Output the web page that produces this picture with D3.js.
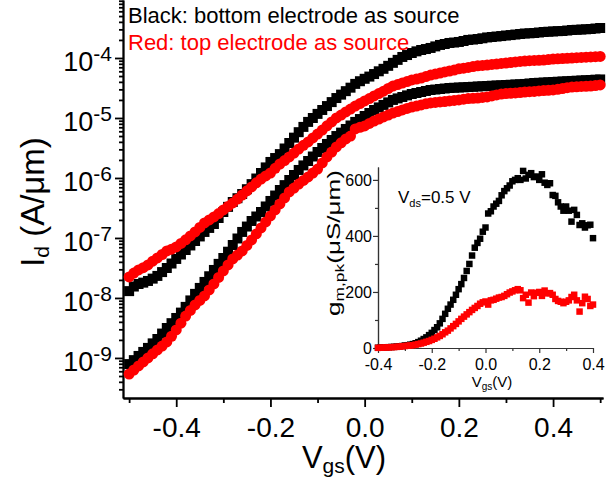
<!DOCTYPE html>
<html lang="en">
<head>
<meta charset="utf-8">
<title>Id-Vgs</title>
<script src="https://cdnjs.cloudflare.com/ajax/libs/d3/7.8.5/d3.min.js"></script>
<style>
  body { margin: 0; background: #fff; }
  svg { display: block; font-family: "Liberation Sans", Arial, sans-serif; }
  .main .domain, .main line { stroke: #000; stroke-width: 1.8px; }
  .inset .domain, .inset line { stroke: #333; stroke-width: 1.2px; }
</style>
</head>
<body>
<div id="chart"></div>
<script>
// main plot: Vgs (V) and drain current (A/um)
var vgsMain = [-0.50,-0.49,-0.48,-0.47,-0.46,-0.45,-0.44,-0.43,-0.42,-0.41,
  -0.40,-0.39,-0.38,-0.37,-0.36,-0.35,-0.34,-0.33,-0.32,-0.31,
  -0.30,-0.29,-0.28,-0.27,-0.26,-0.25,-0.24,-0.23,-0.22,-0.21,
  -0.20,-0.19,-0.18,-0.17,-0.16,-0.15,-0.14,-0.13,-0.12,-0.11,
  -0.10,-0.09,-0.08,-0.07,-0.06,-0.05,-0.04,-0.03,-0.02,-0.01,
  0.00,0.01,0.02,0.03,0.04,0.05,0.06,0.07,0.08,0.09,
  0.10,0.11,0.12,0.13,0.14,0.15,0.16,0.17,0.18,0.19,
  0.20,0.21,0.22,0.23,0.24,0.25,0.26,0.27,0.28,0.29,
  0.30,0.31,0.32,0.33,0.34,0.35,0.36,0.37,0.38,0.39,
  0.40,0.41,0.42,0.43,0.44,0.45,0.46,0.47,0.48,0.49,0.50];

var blackTop = [1.3e-8,1.55e-8,1.71e-8,1.8e-8,1.92e-8,2.1e-8,2.33e-8,2.7e-8,3.16e-8,3.75e-8,
  4.47e-8,5.3e-8,6.3e-8,7.5e-8,8.9e-8,1.06e-7,1.26e-7,1.47e-7,1.71e-7,2.15e-7,
  2.71e-7,3.3e-7,3.98e-7,4.6e-7,5.4e-7,6.5e-7,7.9e-7,9.8e-7,1.21e-6,1.5e-6,
  1.85e-6,2.15e-6,2.5e-6,3.1e-6,3.83e-6,4.7e-6,5.8e-6,7.1e-6,8.6e-6,1.0e-5,
  1.17e-5,1.36e-5,1.58e-5,1.84e-5,2.15e-5,2.45e-5,2.8e-5,3.2e-5,3.7e-5,4.1e-5,
  4.5e-5,4.9e-5,5.4e-5,6.0e-5,6.6e-5,7.4e-5,8.3e-5,9.3e-5,1.04e-4,1.12e-4,
  1.21e-4,1.29e-4,1.36e-4,1.41e-4,1.47e-4,1.56e-4,1.65e-4,1.71e-4,1.78e-4,1.81e-4,
  1.85e-4,1.92e-4,2.0e-4,2.03e-4,2.07e-4,2.13e-4,2.2e-4,2.24e-4,2.28e-4,2.32e-4,
  2.37e-4,2.41e-4,2.46e-4,2.51e-4,2.56e-4,2.58e-4,2.61e-4,2.66e-4,2.71e-4,2.74e-4,
  2.77e-4,2.8e-4,2.82e-4,2.87e-4,2.93e-4,2.95e-4,2.98e-4,3.01e-4,3.04e-4,3.1e-4,3.16e-4];

var blackBottom = [7.9e-10,9.2e-10,1.08e-9,1.26e-9,1.47e-9,1.75e-9,2.07e-9,2.55e-9,3.16e-9,3.8e-9,
  4.64e-9,5.7e-9,7.1e-9,9.1e-9,1.17e-8,1.47e-8,1.85e-8,2.3e-8,2.93e-8,3.7e-8,
  4.64e-8,5.9e-8,7.64e-8,9.8e-8,1.26e-7,1.55e-7,1.92e-7,2.28e-7,2.71e-7,3.35e-7,
  4.14e-7,5.1e-7,6.3e-7,7.6e-7,9.26e-7,1.12e-6,1.36e-6,1.62e-6,1.92e-6,2.28e-6,
  2.71e-6,3.16e-6,3.69e-6,4.3e-6,5.0e-6,5.7e-6,6.56e-6,7.5e-6,8.6e-6,9.6e-6,
  1.08e-5,1.21e-5,1.36e-5,1.5e-5,1.65e-5,1.82e-5,2.0e-5,2.12e-5,2.24e-5,2.38e-5,
  2.51e-5,2.61e-5,2.71e-5,2.82e-5,2.93e-5,2.98e-5,3.04e-5,3.1e-5,3.16e-5,3.19e-5,
  3.22e-5,3.25e-5,3.28e-5,3.31e-5,3.35e-5,3.38e-5,3.41e-5,3.45e-5,3.48e-5,3.51e-5,
  3.55e-5,3.58e-5,3.62e-5,3.65e-5,3.69e-5,3.76e-5,3.83e-5,3.86e-5,3.9e-5,3.94e-5,
  3.98e-5,4.02e-5,4.06e-5,4.1e-5,4.14e-5,4.18e-5,4.22e-5,4.26e-5,4.3e-5,4.35e-5,4.39e-5];

var redTop = [2.24e-8,2.6e-8,2.93e-8,3.2e-8,3.55e-8,4.1e-8,4.64e-8,5.3e-8,6.07e-8,6.5e-8,
  7.08e-8,8.1e-8,9.3e-8,1.08e-7,1.26e-7,1.5e-7,1.78e-7,2.0e-7,2.24e-7,2.55e-7,
  2.93e-7,3.35e-7,3.83e-7,4.45e-7,5.2e-7,6.1e-7,7.1e-7,8.3e-7,9.6e-7,1.08e-6,
  1.21e-6,1.45e-6,1.71e-6,1.95e-6,2.24e-6,2.6e-6,3.04e-6,3.5e-6,3.98e-6,4.65e-6,
  5.4e-6,6.3e-6,7.4e-6,8.6e-6,1.0e-5,1.12e-5,1.26e-5,1.41e-5,1.58e-5,1.74e-5,
  1.92e-5,2.11e-5,2.33e-5,2.55e-5,2.8e-5,3.1e-5,3.4e-5,3.6e-5,3.83e-5,4.05e-5,
  4.3e-5,4.45e-5,4.64e-5,4.9e-5,5.2e-5,5.4e-5,5.6e-5,5.85e-5,6.07e-5,6.3e-5,
  6.6e-5,6.75e-5,6.95e-5,7.2e-5,7.4e-5,7.5e-5,7.64e-5,7.8e-5,7.94e-5,8.1e-5,
  8.25e-5,8.4e-5,8.58e-5,8.75e-5,8.9e-5,9.0e-5,9.1e-5,9.15e-5,9.25e-5,9.4e-5,
  9.6e-5,9.7e-5,9.8e-5,9.9e-5,1.0e-4,1.01e-4,1.02e-4,1.03e-4,1.04e-4,1.05e-4,1.06e-4];

var redBottom = [5.4e-10,6.3e-10,7.36e-10,8.6e-10,1.0e-9,1.17e-9,1.36e-9,1.58e-9,1.85e-9,2.3e-9,
  2.93e-9,3.8e-9,5.0e-9,6.2e-9,7.64e-9,9.1e-9,1.08e-8,1.36e-8,1.71e-8,2.2e-8,
  2.82e-8,3.55e-8,4.47e-8,5.2e-8,6.07e-8,7.5e-8,9.26e-8,1.17e-7,1.47e-7,1.85e-7,
  2.33e-7,2.93e-7,3.69e-7,4.65e-7,5.85e-7,6.8e-7,7.9e-7,9.1e-7,1.04e-6,1.21e-6,
  1.41e-6,1.78e-6,2.24e-6,2.7e-6,3.29e-6,3.85e-6,4.47e-6,5.0e-6,6.56e-6,7.0e-6,
  7.36e-6,8.1e-6,8.9e-6,9.6e-6,1.04e-5,1.12e-5,1.21e-5,1.28e-5,1.36e-5,1.44e-5,
  1.52e-5,1.58e-5,1.65e-5,1.72e-5,1.78e-5,1.82e-5,1.85e-5,1.88e-5,1.92e-5,1.96e-5,
  2.0e-5,2.06e-5,2.11e-5,2.13e-5,2.15e-5,2.2e-5,2.24e-5,2.33e-5,2.42e-5,2.5e-5,
  2.56e-5,2.58e-5,2.61e-5,2.66e-5,2.71e-5,2.74e-5,2.77e-5,2.82e-5,2.87e-5,2.9e-5,
  2.93e-5,3.0e-5,3.1e-5,3.2e-5,3.28e-5,3.31e-5,3.35e-5,3.38e-5,3.41e-5,3.48e-5,3.55e-5];

// inset: peak transconductance (uS/um) vs Vgs
var vgsInset = [-0.40,-0.39,-0.38,-0.37,-0.36,-0.35,-0.34,-0.33,-0.32,-0.31,
  -0.30,-0.29,-0.28,-0.27,-0.26,-0.25,-0.24,-0.23,-0.22,-0.21,
  -0.20,-0.19,-0.18,-0.17,-0.16,-0.15,-0.14,-0.13,-0.12,-0.11,
  -0.10,-0.09,-0.08,-0.07,-0.06,-0.05,-0.04,-0.03,-0.02,-0.01,
  0.00,0.01,0.02,0.03,0.04,0.05,0.06,0.07,0.08,0.09,
  0.10,0.11,0.12,0.13,0.14,0.15,0.16,0.17,0.18,0.19,
  0.20,0.21,0.22,0.23,0.24,0.25,0.26,0.27,0.28,0.29,
  0.30,0.31,0.32,0.33,0.34,0.35,0.36,0.37,0.38,0.39,0.40];

var gmBlack = [1,1.5,2,2.5,3,3.5,4,5,6,7,
  9,10,12,14,17,21,26,32,38,46,
  54,64,74,88,104,122,140,155,172,190,
  210,228,250,275,300,330,358,375,390,415,
  430,480,488,505,515,525,545,560,570,580,
  595,600,606,600,632,605,618,624,610,612,
  600,620,590,582,588,546,543,520,505,490,
  505,490,451,493,475,439,445,430,438,440,392];

var gmRed = [0.5,1,1.5,2,2.5,3,3.5,4,5,6,
  7,8,9,10,12,14,16,19,22,25,
  29,33,38,43,49,56,62,70,78,86,
  95,104,112,120,128,136,143,150,158,163,
  166,155,170,172,176,180,182,186,192,198,
  202,206,210,206,178,190,162,198,185,197,
  200,186,205,195,196,190,175,168,165,160,
  165,170,182,190,170,130,160,183,175,150,155];

var mainXTicks = [-0.4, -0.2, 0.0, 0.2, 0.4];
var mainXMinor = [-0.5, -0.3, -0.1, 0.1, 0.3, 0.5];
var mainYTicks = [1e-9, 1e-8, 1e-7, 1e-6, 1e-5, 1e-4];
var insetXTicks = [-0.4, -0.2, 0.0, 0.2, 0.4];
var insetXMinor = [-0.3, -0.1, 0.1, 0.3];
var insetYTicks = [0, 200, 400, 600];
var insetYMinor = [100, 300, 500];

var width = 616, height = 482;

var svg = d3.select("#chart")
  .append("svg")
  .attr("width", width)
  .attr("height", height);

//---------------- main plot ----------------
var x = d3.scaleLinear().domain([-0.513, 0.506]).range([123, 603]);
var y = d3.scaleLog().domain([2.15e-10, 9.26e-4]).range([398, 0]);

var fmt = function(d) { return d.toFixed(1); };

var mainG = svg.append("g").attr("class", "main");

// minor ticks first, the major axis goes over them
mainG.append("g")
  .attr("transform", "translate(0,398)")
  .call(d3.axisBottom(x).tickValues(mainXMinor).tickSize(5).tickSizeOuter(0).tickFormat(""));

var xAxisG = mainG.append("g")
  .attr("transform", "translate(0,398)")
  .call(d3.axisBottom(x).tickValues(mainXTicks).tickSize(9).tickSizeOuter(0).tickFormat(fmt));
xAxisG.selectAll("text")
  .attr("y", 39)
  .attr("dy", 0)
  .style("font-size", "28px")
  .style("font-family", "'Liberation Sans', Arial, sans-serif")
  .attr("fill", "#000");

// log minor ticks 2..9 in each decade
var yMinor = [];
for (var e = -10; e <= -4; e++) {
  for (var m = 2; m <= 9; m++) {
    var v = m * Math.pow(10, e);
    if (v >= y.domain()[0] && v <= y.domain()[1]) yMinor.push(v);
  }
}
mainG.append("g")
  .attr("transform", "translate(123,0)")
  .call(d3.axisLeft(y).tickValues(yMinor).tickSize(4).tickSizeOuter(0).tickFormat(""));

var yAxisG = mainG.append("g")
  .attr("transform", "translate(123,0)")
  .call(d3.axisLeft(y).tickValues(mainYTicks).tickSize(8).tickSizeOuter(0).tickFormat(""));

// power-of-ten labels: "10" with a superscript exponent
yAxisG.selectAll(".tick").each(function(d) {
  var t = d3.select(this).append("text")
    .attr("x", -11)
    .attr("y", 13)
    .attr("text-anchor", "end")
    .attr("fill", "#000")
    .style("font-size", "27px");
  t.append("tspan").text("10");
  t.append("tspan")
    .attr("dy", -10)
    .style("font-size", "21px")
    .text("-" + Math.round(-Math.log10(d)));
});

// markers
var sqBig = d3.symbol().type(d3.symbolSquare).size(100);
var circ = d3.symbol().type(d3.symbolCircle).size(95);

function drawSeries(g, xs, ys, sx, sy, sym, color) {
  g.append("g").selectAll("path")
    .data(xs.map(function(d, i) { return [d, ys[i]]; }))
    .enter().append("path")
    .attr("d", sym)
    .attr("transform", function(d) { return "translate(" + sx(d[0]) + "," + sy(d[1]) + ")"; })
    .attr("fill", color);
}

drawSeries(svg, vgsMain, blackTop, x, y, sqBig, "#000");
drawSeries(svg, vgsMain, blackBottom, x, y, sqBig, "#000");
drawSeries(svg, vgsMain, redTop, x, y, circ, "#ff0000");
drawSeries(svg, vgsMain, redBottom, x, y, circ, "#ff0000");

// legend text
svg.append("text").attr("x", 128).attr("y", 23)
  .style("font-size", "22px").attr("fill", "#000")
  .text("Black: bottom electrode as source");
svg.append("text").attr("x", 128).attr("y", 50)
  .style("font-size", "22px").attr("fill", "#ff0000")
  .text("Red: top electrode as source");

// axis titles
var xt = svg.append("text")
  .attr("x", 344).attr("y", 468)
  .attr("text-anchor", "middle")
  .style("font-size", "31px");
xt.append("tspan").text("V");
xt.append("tspan").attr("dy", 5).style("font-size", "21px").text("gs");
xt.append("tspan").attr("dy", -5).text("(V)");

var yt = svg.append("text")
  .attr("transform", "translate(44,202) rotate(-90)")
  .attr("text-anchor", "middle")
  .style("font-size", "33px");
yt.append("tspan").text("I");
yt.append("tspan").attr("dy", 5).style("font-size", "21px").text("d");
yt.append("tspan").attr("dy", -5).text(" (A/\u03bcm)");

//---------------- inset ----------------
var ix = d3.scaleLinear().domain([-0.4, 0.4]).range([378, 593]);
var iy = d3.scaleLinear().domain([0, 646]).range([348, 167]);

var insetG = svg.append("g").attr("class", "inset");

insetG.append("g")
  .attr("transform", "translate(0,348)")
  .call(d3.axisBottom(ix).tickValues(insetXMinor).tickSize(3).tickSizeOuter(0).tickFormat(""));
var ixAxis = insetG.append("g")
  .attr("transform", "translate(0,348)")
  .call(d3.axisBottom(ix).tickValues(insetXTicks).tickSize(5).tickSizeOuter(0).tickFormat(fmt));
ixAxis.selectAll("text")
  .attr("y", 22).attr("dy", 0)
  .attr("fill", "#000")
  .style("font-size", "16px")
  .style("font-family", "'Liberation Sans', Arial, sans-serif");

insetG.append("g")
  .attr("transform", "translate(378,0)")
  .call(d3.axisLeft(iy).tickValues(insetYMinor).tickSize(3).tickSizeOuter(0).tickFormat(""));
var iyAxis = insetG.append("g")
  .attr("transform", "translate(378,0)")
  .call(d3.axisLeft(iy).tickValues(insetYTicks).tickSize(5).tickSizeOuter(0));
iyAxis.selectAll("text")
  .attr("x", -6)
  .attr("fill", "#000")
  .style("font-size", "16px")
  .style("font-family", "'Liberation Sans', Arial, sans-serif");

var sqSmall = d3.symbol().type(d3.symbolSquare).size(42);
drawSeries(svg, vgsInset, gmBlack, ix, iy, sqSmall, "#000");
drawSeries(svg, vgsInset, gmRed, ix, iy, sqSmall, "#ff0000");

var vds = svg.append("text").attr("x", 398).attr("y", 203).style("font-size", "17px");
vds.append("tspan").text("V");
vds.append("tspan").attr("dy", 4).style("font-size", "11px").text("ds");
vds.append("tspan").attr("dy", -4).text("=0.5 V");

var ixt = svg.append("text")
  .attr("x", 492).attr("y", 387)
  .attr("text-anchor", "middle")
  .style("font-size", "15px");
ixt.append("tspan").text("V");
ixt.append("tspan").attr("dy", 3).style("font-size", "10px").text("gs");
ixt.append("tspan").attr("dy", -3).text("(V)");

var iyt = svg.append("text")
  .attr("transform", "translate(340,243) rotate(-90) scale(1.45,1)")
  .attr("text-anchor", "middle")
  .style("font-size", "18px");
iyt.append("tspan").text("g");
iyt.append("tspan").attr("dy", 4).style("font-size", "12px").text("m,pk");
iyt.append("tspan").attr("dy", -4).text("(\u03bcS/\u03bcm)");
</script>
</body>
</html>
